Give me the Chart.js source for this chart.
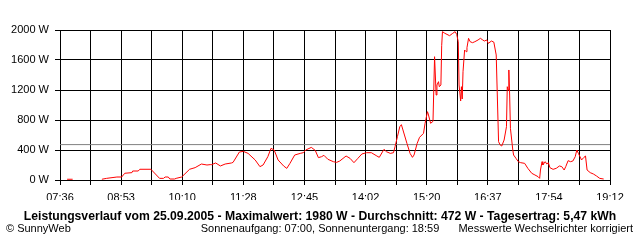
<!DOCTYPE html>
<html>
<head>
<meta charset="utf-8">
<title>Leistungsverlauf</title>
<script src="https://cdn.jsdelivr.net/npm/chart.js@4/dist/chart.umd.min.js"></script>
<style>
  body { margin: 0; background: #fff; }
  #chart { display: block; }
</style>
</head>
<body>
<canvas id="chart" width="640" height="240"></canvas>
<script>
// --- Data (time in minutes since midnight, power in W) ---
const tickLabels = ['07:36', '08:53', '10:10', '11:28', '12:45', '14:02', '15:20', '16:37', '17:54', '19:12'];
const xStart = 456;   // 07:36
const xEnd = 1152;    // 19:12
const yTicks = [0, 400, 800, 1200, 1600, 2000];
const average = 472;

const minutes = [
  465, 472, 490,
  509, 515, 528, 534, 538, 547, 548, 555, 557, 571, 582, 587, 589, 593, 595, 601, 603, 610,
  620, 627, 635, 642, 646, 648, 653, 659, 665, 673, 675, 683, 688, 694, 703, 709, 713, 719,
  723, 727, 732, 739, 743, 747, 753, 760, 764, 767, 774, 779, 783, 787, 790, 795, 802, 806,
  810, 818, 823, 828, 833, 838, 844, 850, 857, 860, 866, 869, 874, 878, 880, 883, 886, 888,
  890, 895, 899, 902, 904, 908, 911, 916, 918, 921, 922, 925, 928, 929, 930, 932, 933, 935,
  936, 938, 939, 940, 943, 949, 953, 956, 958, 960, 961, 963, 964, 965, 966, 968, 970, 971,
  973, 975, 978, 981, 985, 988, 991, 993, 996, 998, 1002, 1005, 1008, 1011, 1013, 1015, 1018,
  1021, 1022, 1023, 1024, 1025, 1026, 1029, 1030, 1033, 1036, 1039, 1044, 1048, 1053, 1057,
  1061, 1063, 1064, 1066, 1067, 1070, 1072, 1074, 1076, 1080, 1084, 1088, 1091, 1094, 1096,
  1099, 1102, 1105, 1108, 1110, 1112, 1114, 1116, 1119, 1121, 1123, 1127, 1131, 1135, 1139, 1144
];
const watts = [
  10, 10, null,
  10, 22, 40, 40, 90, 98, 120, 120, 143, 143, 22, 22, 40, 40, 13, 13, 22, 40,
  143, 165, 213, 200, 205, 205, 227, 187, 213, 227, 235, 373, 382, 355, 267, 178, 200, 311,
  422, 400, 267, 187, 155, 222, 333, 355, 365, 400, 435, 395, 298, 311, 329, 276, 244, 235,
  253, 320, 289, 231, 289, 347, 364, 364, 320, 302, 409, 378, 355, 364, 444, 578, 711, 738,
  667, 489, 355, 302, 333, 489, 569, 622, 756, 911, 880, 756, 782, 1200, 1644, 1133, 1267, 1311,
  1244, 1267, 1791, 1978, 1956, 1924, 1956, 1978, 1942, 1844, 1267, 1053, 1244, 1080, 1444, 1733, 1711, 1764,
  1889, 1844, 1831, 1844, 1867, 1889, 1867, 1853, 1867, 1822, 1853, 1838, 1667, 511, 467, 453, 533,
  711, 1244, 1200, 1467, 1133, 689, 400, 333, 289, 244, 231, 222, 156, 89, 67,
  44, 22, 133, 244, 200, 244, 213, 231, 164, 142, 156, 187, 178, 133, 178,
  258, 244, 253, 311, 400, 355, 311, 267, 302, 320, 133, 98, 80, 53, 22, 13
];

const FONT = '"Liberation Sans", Arial, sans-serif';

// footer texts drawn under the chart
const footerPlugin = {
  id: 'footer',
  afterDraw(chart) {
    const ctx = chart.ctx;
    ctx.save();
    ctx.fillStyle = '#000';
    ctx.textBaseline = 'middle';
    ctx.font = 'bold 12.2px ' + FONT;
    ctx.textAlign = 'center';
    ctx.fillText('Leistungsverlauf vom 25.09.2005 - Maximalwert: 1980 W - Durchschnitt: 472 W - Tagesertrag: 5,47 kWh', 320, 217);
    ctx.font = '11px ' + FONT;
    ctx.textAlign = 'left';
    ctx.fillText('\u00a9 SunnyWeb', 6, 229);
    ctx.textAlign = 'center';
    ctx.fillText('Sonnenaufgang: 07:00, Sonnenuntergang: 18:59', 320, 229);
    ctx.textAlign = 'right';
    ctx.fillText('Messwerte Wechselrichter korrigiert', 633, 229);
    ctx.restore();
  }
};

const gridStep = (xEnd - xStart) / 18;

new Chart(document.getElementById('chart'), {
  type: 'line',
  data: {
    datasets: [
      {
        data: [{ x: xStart, y: average }, { x: xEnd, y: average }],
        borderColor: '#808080',
        borderWidth: 1,
        pointRadius: 0,
        order: 2
      },
      {
        data: minutes.map((m, i) => ({ x: m, y: watts[i] })),
        borderColor: '#ff0000',
        borderWidth: 1,
        pointRadius: 0,
        tension: 0,
        spanGaps: false,
        order: 1
      }
    ]
  },
  options: {
    responsive: false,
    animation: false,
    events: [],
    layout: { padding: { top: 30, right: 30, left: 0, bottom: 40 } },
    plugins: { legend: { display: false }, tooltip: { enabled: false } },
    scales: {
      x: {
        type: 'linear',
        min: xStart,
        max: xEnd,
        afterBuildTicks(scale) {
          scale.ticks = [];
          for (let i = 0; i <= 18; i++) scale.ticks.push({ value: xStart + i * gridStep });
        },
        afterFit(scale) { scale.height = 20; },
        ticks: {
          autoSkip: false,
          maxRotation: 0,
          padding: 6,
          color: '#000',
          font: { family: FONT, size: 11 },
          callback: (v, i) => (i % 2 === 0 ? tickLabels[i / 2] : '')
        },
        grid: { color: '#000', lineWidth: 1, tickLength: 5 },
        border: { color: '#000' }
      },
      y: {
        min: 0,
        max: 2000,
        afterBuildTicks(scale) {
          scale.ticks = yTicks.map(v => ({ value: v }));
        },
        afterFit(scale) { scale.width = 60; },
        ticks: {
          padding: 6,
          color: '#000',
          font: { family: FONT, size: 11 },
          callback: v => v + ' W'
        },
        grid: { color: '#000', lineWidth: 1, tickLength: 5 },
        border: { color: '#000' }
      }
    }
  },
  plugins: [footerPlugin]
});
</script>
</body>
</html>
